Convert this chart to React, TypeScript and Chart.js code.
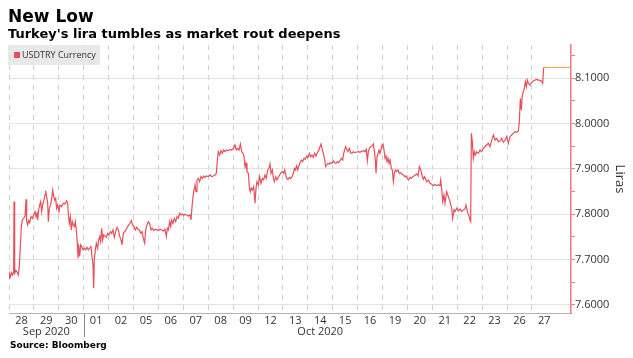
import React, { useEffect, useRef } from 'react';
import { Chart, registerables } from 'chart.js';

Chart.register(...registerables);

// ---- Data ----
const dayLabels = ['28', '29', '30', '01', '02', '05', '06', '07', '08', '09', '12', '13', '14', '15', '16', '19', '20', '21', '22', '23', '26', '27'];
const monthLabels = ['Sep 2020', 'Oct 2020'];
const monthStartIndex = [0, 3];
const yTickValues = [7.6, 7.65, 7.7, 7.75, 7.8, 7.85, 7.9, 7.95, 8.0, 8.05, 8.1, 8.15];
const seriesLabel = 'USDTRY Currency';

// time = trading-day index (day i spans [i, i+1)), value = USDTRY
const usdtryTime = [
  0, 0.027, 0.067, 0.107, 0.147, 0.187, 0.201, 0.228, 0.281, 0.335, 0.375, 0.415, 0.455, 0.495, 0.536, 0.589, 0.643, 0.683, 0.71, 0.75,
  0.79, 0.83, 0.884, 0.937, 0.991, 1.044, 1.084, 1.125, 1.151, 1.191, 1.232, 1.272, 1.312, 1.352, 1.406, 1.446, 1.473, 1.513, 1.553, 1.58,
  1.62, 1.673, 1.714, 1.754, 1.794, 1.834, 1.874, 1.914, 1.955, 2.008, 2.048, 2.115, 2.182, 2.249, 2.316, 2.356, 2.383, 2.423, 2.463, 2.503,
  2.544, 2.584, 2.624, 2.664, 2.704, 2.744, 2.771, 2.798, 2.838, 2.878, 2.918, 2.972, 3.026, 3.079, 3.133, 3.186, 3.24, 3.293, 3.333, 3.374,
  3.4, 3.427, 3.467, 3.507, 3.561, 3.601, 3.641, 3.681, 3.722, 3.762, 3.802, 3.856, 3.909, 3.963, 4.016, 4.07, 4.123, 4.177, 4.23, 4.284,
  4.337, 4.391, 4.444, 4.498, 4.538, 4.592, 4.645, 4.699, 4.752, 4.806, 4.86, 4.913, 4.967, 5.02, 5.074, 5.127, 5.181, 5.234, 5.288, 5.341,
  5.395, 5.449, 5.489, 5.542, 5.596, 5.636,
  5.663, 5.703, 5.757, 5.81, 5.864, 5.931, 5.998, 6.064, 6.131, 6.198, 6.265, 6.319, 6.359, 6.399, 6.453, 6.493, 6.533, 6.587, 6.64, 6.694,
  6.747, 6.801, 6.854, 6.908, 6.961, 7.015, 7.068, 7.135, 7.202, 7.269, 7.309, 7.35, 7.39, 7.43, 7.47, 7.51, 7.55, 7.604, 7.657, 7.711,
  7.765, 7.818, 7.872, 7.939, 8.006, 8.072, 8.139, 8.206, 8.273, 8.327, 8.367, 8.407, 8.461, 8.514, 8.568, 8.621, 8.675, 8.742, 8.809, 8.876,
  8.943, 9.01, 9.076, 9.13, 9.184, 9.237, 9.291, 9.344, 9.398, 9.438, 9.478, 9.518, 9.558, 9.612, 9.652, 9.692, 9.732, 9.773, 9.826, 9.88,
  9.92, 9.96, 10.014, 10.067, 10.121, 10.174, 10.228, 10.281, 10.335, 10.388, 10.442, 10.482, 10.522, 10.576, 10.616, 10.656, 10.71, 10.763, 10.817, 10.87,
  10.924, 10.977, 11.031, 11.071,
  11.112, 11.152, 11.205, 11.259, 11.312, 11.366, 11.42, 11.46, 11.5, 11.553, 11.594, 11.634, 11.687, 11.741, 11.794, 11.848, 11.901, 11.955, 12.009, 12.062,
  12.116, 12.169, 12.223, 12.276, 12.33, 12.383, 12.437, 12.49, 12.531, 12.571, 12.624, 12.678, 12.718, 12.758, 12.812, 12.865, 12.919, 12.972, 13.026, 13.079,
  13.133, 13.187, 13.24, 13.294, 13.347, 13.401, 13.441, 13.481, 13.521, 13.561, 13.615, 13.669, 13.722, 13.776, 13.829, 13.896, 13.963, 14.03, 14.097, 14.164,
  14.231, 14.298, 14.351, 14.391, 14.432, 14.472, 14.525, 14.579, 14.632, 14.673, 14.713, 14.739, 14.78, 14.82, 14.86, 14.9, 14.94, 14.98, 15.021, 15.061,
  15.101, 15.141, 15.181, 15.221, 15.262, 15.302, 15.355, 15.395, 15.436, 15.476, 15.516, 15.569, 15.623, 15.677, 15.73, 15.784, 15.837, 15.891, 15.944, 15.998,
  16.051, 16.105, 16.158, 16.212, 16.266, 16.319, 16.373, 16.426, 16.48, 16.533, 16.587, 16.64, 16.694,
  16.774, 16.841, 16.908, 16.975, 17.042, 17.108, 17.175, 17.242, 17.309, 17.336, 17.376, 17.416, 17.47, 17.51, 17.577, 17.644, 17.711, 17.778, 17.818, 17.872,
  17.912, 17.979, 18.046, 18.112, 18.179, 18.246, 18.313, 18.353, 18.407, 18.461, 18.514, 18.541, 18.568, 18.608, 18.648, 18.688, 18.728, 18.782, 18.849, 18.916,
  18.983, 19.05, 19.116, 19.183, 19.25, 19.317, 19.384, 19.451, 19.518, 19.585, 19.652, 19.719, 19.786, 19.853, 19.92, 19.987, 20.054, 20.12, 20.187, 20.254,
  20.321, 20.388, 20.455, 20.495, 20.536, 20.576, 20.616, 20.656, 20.696, 20.736, 20.776, 20.817, 20.857, 20.924, 20.99, 21.057, 21.124, 21.191, 21.258, 21.325,
  21.392, 21.432, 21.473,
];

const usdtryValue = [
  7.6587, 7.6683, 7.6624, 7.6712, 7.6661, 7.6734, 7.8276, 7.6697, 7.6756, 7.6712, 7.6661, 7.6844, 7.7285, 7.7725, 7.7872, 7.7909, 7.796, 7.8327, 7.7835, 7.7762,
  7.7857, 7.7813, 7.7946, 7.7909, 7.7982, 7.8056, 7.7946, 7.8019, 7.7872, 7.8092, 7.8203, 7.8276, 7.8056, 7.8203, 7.8313, 7.8423, 7.8518, 7.8386, 7.8239, 7.7835,
  7.8129, 7.8203, 7.8349, 7.8533, 7.8386, 7.8313, 7.8349, 7.8129, 7.8203, 7.8056, 7.8203, 7.8166, 7.8239, 7.8225, 7.8298, 7.8239, 7.7982, 7.7799, 7.7946, 7.7652,
  7.7835, 7.7762, 7.7725, 7.7835, 7.7652, 7.7358, 7.7028, 7.7321, 7.7065, 7.7321, 7.7285, 7.7211, 7.7248, 7.7211, 7.727, 7.7211, 7.7248, 7.7285, 7.7065, 7.6881,
  7.6367, 7.6991, 7.7211, 7.7358, 7.7248, 7.7432, 7.7505, 7.7395, 7.7689, 7.7432, 7.7542, 7.752, 7.749, 7.7578, 7.7542, 7.7615, 7.7578, 7.7652, 7.749, 7.7615,
  7.7711, 7.7652, 7.752, 7.7432, 7.7321, 7.7578, 7.7615, 7.7652, 7.7711, 7.7762, 7.7799, 7.7857, 7.7762, 7.7725, 7.7652, 7.7711, 7.7667, 7.7652, 7.7578, 7.7615,
  7.7468, 7.7358, 7.7652, 7.7762, 7.7835, 7.7799,
  7.7762, 7.7652, 7.7689, 7.7637, 7.7667, 7.7652, 7.7637, 7.7667, 7.7652, 7.763, 7.7667, 7.7505, 7.7689, 7.7652, 7.7836, 7.7726, 7.7872, 7.7799, 7.7909, 7.7836,
  7.7946, 7.7909, 7.8019, 7.7982, 7.8005, 7.7968, 7.7997, 7.7982, 7.796, 7.7982, 7.7872, 7.8166, 7.8386, 7.8533, 7.8643, 7.8496, 7.8753, 7.879, 7.8717, 7.8827,
  7.879, 7.8842, 7.8812, 7.8842, 7.8827, 7.8864, 7.8827, 7.8842, 7.8864, 7.89, 7.9194, 7.9377, 7.9304, 7.94, 7.9341, 7.9414, 7.9377, 7.9414, 7.94, 7.9429,
  7.9414, 7.9451, 7.9524, 7.9414, 7.9451, 7.9414, 7.9546, 7.9377, 7.9341, 7.9267, 7.9047, 7.9121, 7.8937, 7.89, 7.8607, 7.8496, 7.857, 7.8533, 7.8607, 7.8239,
  7.857, 7.8717, 7.8643, 7.8827, 7.868, 7.879, 7.8753, 7.8864, 7.879, 7.8974, 7.901, 7.9106, 7.89, 7.8974, 7.879, 7.8717, 7.8827, 7.8753, 7.8812, 7.8864,
  7.8915, 7.8937, 7.89, 7.8974,
  7.8864, 7.879, 7.8768, 7.8812, 7.8783, 7.8827, 7.89, 7.901, 7.8974, 7.9062, 7.8974, 7.9047, 7.9135, 7.9194, 7.9157, 7.9231, 7.9209, 7.9282, 7.9253, 7.9341,
  7.9267, 7.9304, 7.9253, 7.9341, 7.9282, 7.9355, 7.94, 7.9488, 7.9546, 7.9451, 7.9341, 7.9194, 7.9047, 7.9084, 7.9121, 7.9106, 7.9135, 7.9121, 7.9179, 7.9135,
  7.9121, 7.9157, 7.9135, 7.9179, 7.9231, 7.9194, 7.9341, 7.9414, 7.9488, 7.9429, 7.9377, 7.9451, 7.9355, 7.9341, 7.9377, 7.9355, 7.937, 7.9377, 7.9363, 7.9385,
  7.94, 7.9377, 7.9429, 7.9179, 7.9377, 7.9451, 7.9488, 7.9502, 7.9546, 7.9377, 7.9194, 7.89, 7.9267, 7.9341, 7.9414, 7.9341, 7.9429, 7.9524, 7.9546, 7.9414,
  7.9231, 7.9282, 7.9157, 7.9231, 7.9121, 7.9194, 7.901, 7.8974, 7.8717, 7.89, 7.8974, 7.8937, 7.8974, 7.89, 7.8915, 7.8886, 7.8864, 7.8827, 7.8842, 7.879,
  7.8753, 7.8812, 7.879, 7.8827, 7.8842, 7.8864, 7.8886, 7.8842, 7.9047, 7.8974, 7.8864, 7.8768, 7.8827,
  7.8717, 7.8753, 7.868, 7.8658, 7.8629, 7.8658, 7.8629, 7.8643, 7.8629, 7.8753, 7.857, 7.8276, 7.8423, 7.8239, 7.8496, 7.8386, 7.8276, 7.8129, 7.7909, 7.8093,
  7.8056, 7.8129, 7.8071, 7.8115, 7.8056, 7.8093, 7.8115, 7.8203, 7.8056, 7.7983, 7.7872, 7.7836, 7.9781, 7.9597, 7.9231, 7.9377, 7.9304, 7.9377, 7.9341, 7.9414,
  7.9377, 7.9451, 7.9487, 7.9524, 7.9561, 7.9487, 7.9634, 7.9745, 7.9634, 7.9671, 7.9597, 7.9612, 7.9671, 7.9583, 7.9634, 7.9708, 7.9561, 7.9708, 7.9745, 7.9781,
  7.9818, 7.9804, 7.9833, 8.0038, 8.0552, 8.0295, 8.0625, 8.0699, 8.0772, 8.0919, 8.0809, 8.0956, 8.0882, 8.0846, 8.0905, 8.0934, 8.0956, 8.0971, 8.0956, 8.0949,
  8.0934, 8.0882, 8.1235,
];

const lastPriceTime = [21.473, 22.57];
const lastPriceValue = [8.1235, 8.1235];

// ---- Styles ----
const RED = '#e6505a';
const AXIS_RED = '#f07880';
const ORANGE = '#f5a55e';
const TEXT = '#333333';
const FONT = '"Open Sans", "Noto Sans", sans-serif';
const X_MIN = 0;
const X_MAX = 22.57;

const decorPlugin = {
  id: 'decor',
  beforeDatasetsDraw(chart: any) {
    const { ctx, chartArea } = chart;
    ctx.save();
    ctx.fillStyle = 'rgba(228,228,228,0.8)';
    ctx.fillRect(chartArea.left - 1, chartArea.top, 92, 20);
    ctx.fillStyle = RED;
    ctx.fillRect(chartArea.left + 5, chartArea.top + 7, 6, 6);
    ctx.fillStyle = TEXT;
    ctx.font = `9px ${FONT}`;
    ctx.textBaseline = 'middle';
    ctx.textAlign = 'left';
    ctx.fillText(chart.data.datasets[0].label, chartArea.left + 13, chartArea.top + 10.5);
    ctx.restore();
  },
  afterDraw(chart: any) {
    const { ctx, chartArea } = chart;
    const xs = chart.scales.x;
    ctx.save();
    // month separators
    ctx.strokeStyle = '#8a8a8a';
    ctx.lineWidth = 1;
    for (let i = 1; i < monthStartIndex.length; i++) {
      const sx = Math.round(xs.getPixelForValue(monthStartIndex[i])) + 0.5;
      ctx.beginPath();
      ctx.moveTo(sx, chartArea.bottom);
      ctx.lineTo(sx, chartArea.bottom + 24);
      ctx.stroke();
    }
    // month labels
    ctx.font = `11px ${FONT}`;
    ctx.fillStyle = TEXT;
    ctx.textAlign = 'center';
    ctx.textBaseline = 'middle';
    monthLabels.forEach((m, i) => {
      const start = monthStartIndex[i];
      const end = i + 1 < monthStartIndex.length ? monthStartIndex[i + 1] : dayLabels.length;
      ctx.fillText(m, xs.getPixelForValue((start + end) / 2), chartArea.bottom + 19);
    });
    ctx.restore();
  },
};

export default function App() {
  const canvasRef = useRef<HTMLCanvasElement | null>(null);

  useEffect(() => {
    if (!canvasRef.current) return;
    const mainData = usdtryTime.map((t, i) => ({ x: t, y: usdtryValue[i] }));
    const lastData = lastPriceTime.map((t, i) => ({ x: t, y: lastPriceValue[i] }));

    const chart = new Chart(canvasRef.current, {
      type: 'line',
      data: {
        datasets: [
          {
            label: seriesLabel,
            data: mainData,
            borderColor: RED,
            borderWidth: 1.2,
            pointRadius: 0,
            tension: 0,
          },
          {
            label: 'Last',
            data: lastData,
            borderColor: ORANGE,
            borderWidth: 1.2,
            pointRadius: 0,
            tension: 0,
          },
        ],
      },
      options: {
        animation: false,
        responsive: false,
        devicePixelRatio: 1,
        parsing: false,
        layout: { padding: { left: 9, top: 45, right: 0, bottom: 0 } },
        plugins: {
          legend: { display: false },
          tooltip: { enabled: false },
          title: { display: false },
        },
        scales: {
          x: {
            type: 'linear',
            min: X_MIN,
            max: X_MAX,
            afterBuildTicks: (scale: any) => {
              scale.ticks = dayLabels.map((_, i) => ({ value: i + 0.5 }));
            },
            afterFit: (scale: any) => {
              scale.height = 45;
            },
            ticks: {
              autoSkip: false,
              maxRotation: 0,
              padding: 1,
              color: TEXT,
              font: { family: FONT, size: 11 },
              callback: (_v: any, index: number) => dayLabels[index],
            },
            grid: {
              offset: true,
              drawTicks: false,
              color: (ctx: any) => (ctx.type === 'tick' ? '#cfcfcf' : 'transparent'),
              lineWidth: 1,
            },
            border: { display: true, color: '#b5b5b5', dash: [5, 5] },
          },
          y: {
            type: 'linear',
            position: 'right',
            min: 7.582,
            max: 8.173,
            afterBuildTicks: (scale: any) => {
              scale.ticks = yTickValues.map((v) => ({ value: v }));
            },
            afterFit: (scale: any) => {
              scale.width = 62;
            },
            ticks: {
              padding: 0,
              color: TEXT,
              font: { family: FONT, size: 11 },
              callback: (v: any, index: number) => (index % 2 === 0 ? Number(v).toFixed(4) : ''),
            },
            grid: {
              color: (ctx: any) => (ctx.index % 2 === 0 ? '#e3e3e3' : 'transparent'),
              tickColor: AXIS_RED,
              tickLength: 4,
              lineWidth: 1,
            },
            border: { display: true, color: AXIS_RED, width: 1.5 },
            title: {
              display: true,
              text: 'Liras',
              color: TEXT,
              font: { family: FONT, size: 13 },
              padding: { top: 5, bottom: 0 },
            },
          },
        },
      },
      plugins: [decorPlugin],
    });
    return () => chart.destroy();
  }, []);

  const boldFont = '"DejaVu Sans", Verdana, sans-serif';
  return (
    <div style={{ position: 'absolute', left: 0, top: 0, width: 633, height: 358, background: '#fff', overflow: 'hidden' }}>
      <canvas ref={canvasRef} width={633} height={358} style={{ position: 'absolute', left: 0, top: 0, display: 'block' }} />
      <div style={{ position: 'absolute', left: 8, top: 8, fontFamily: boldFont, fontWeight: 'bold', fontSize: 17, lineHeight: '17px', color: '#000', whiteSpace: 'nowrap' }}>
        New Low
      </div>
      <div style={{ position: 'absolute', left: 8, top: 27, fontFamily: boldFont, fontWeight: 'bold', fontSize: 13, lineHeight: '13px', color: '#000', whiteSpace: 'nowrap' }}>
        Turkey's lira tumbles as market rout deepens
      </div>
      <div style={{ position: 'absolute', left: 10, top: 341, fontFamily: boldFont, fontWeight: 'bold', fontSize: 9, lineHeight: '9px', color: '#000', whiteSpace: 'nowrap' }}>
        Source: Bloomberg
      </div>
    </div>
  );
}
